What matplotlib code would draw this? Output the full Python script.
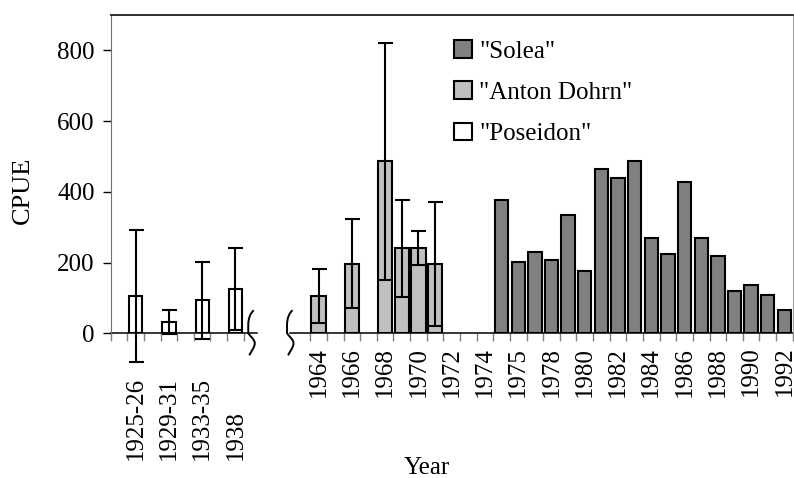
import numpy as np
import matplotlib
matplotlib.use('Agg')
import matplotlib.pyplot as plt
import matplotlib.transforms as mtransforms
from matplotlib.patches import Patch, PathPatch
from matplotlib.path import Path

matplotlib.rc('font', family='Liberation Serif', size=18)

_ = np.nan

# one slot per category on the x axis, '' = category without a printed label
cat_labels = ['', '1925-26', '', '1929-31', '', '1933-35', '', '1938', '', '', '', '',
              '1964', '', '1966', '', '1968', '', '1970', '', '1972', '', '1974',
              '', '1975', '', '1978', '', '1980', '', '1982', '', '1984', '', '1986',
              '', '1988', '', '1990', '', '1992']

poseidon_cpue = [_, 105, _, 32, _, 93, _, 125, _, _, _, _,
                 _, _, _, _, _, _, _, _, _, _, _,
                 _, _, _, _, _, _, _, _, _, _, _, _, _, _, _, _, _, _]
poseidon_err = [_, 187, _, 33, _, 108, _, 115, _, _, _, _,
                _, _, _, _, _, _, _, _, _, _, _,
                _, _, _, _, _, _, _, _, _, _, _, _, _, _, _, _, _, _]
anton_cpue = [_, _, _, _, _, _, _, _, _, _, _, _,
              105, _, 197, _, 487, 241, 241, 197, _, _, _,
              _, _, _, _, _, _, _, _, _, _, _, _, _, _, _, _, _, _]
anton_err = [_, _, _, _, _, _, _, _, _, _, _, _,
             76, _, 125, _, 335, 137, 48, 175, _, _, _,
             _, _, _, _, _, _, _, _, _, _, _, _, _, _, _, _, _, _]
solea_cpue = [_, _, _, _, _, _, _, _, _, _, _, _,
              _, _, _, _, _, _, _, _, _, _, _,
              378, 202, 229, 208, 335, 176, 465, 438, 487, 269, 225, 427,
              269, 219, 120, 137, 109, 66]

# empty slots where the time axis is broken
break_first, break_last = 8, 11

fig = plt.figure(figsize=(7.94, 4.78), dpi=100)
ax = fig.add_axes([0.1394, 0.3027, 0.859, 0.6659])

x = np.arange(len(cat_labels))
lw = 1.5
ax.bar(x, solea_cpue, 0.8, color='#808080', edgecolor='black', linewidth=lw)
ax.bar(x, anton_cpue, 0.86, color='#c0c0c0', edgecolor='black', linewidth=lw)
ax.bar(x, poseidon_cpue, 0.8, color='white', edgecolor='black', linewidth=lw)
for vals, errs in [(anton_cpue, anton_err), (poseidon_cpue, poseidon_err)]:
    eb = ax.errorbar(x, vals, yerr=errs, fmt='none', ecolor='black',
                     elinewidth=lw, capsize=5.4, capthick=lw)
    for art in list(eb.lines[1]) + list(eb.lines[2]):
        art.set_clip_on(False)

ax.set_xlim(-0.5, len(cat_labels) - 0.5)
ax.set_ylim(0, 900)
ax.set_yticks(range(0, 801, 200))
ax.tick_params(axis='y', direction='out', length=5.5, width=1, color='black', pad=6)

# tick marks between categories, none inside the break
bounds = np.arange(len(cat_labels) + 1) - 0.5
ticks = [b for b in bounds if not (break_first - 0.5 < b < break_last + 0.5)]
ax.set_xticks(ticks)
ax.set_xticklabels([])
ax.tick_params(axis='x', direction='out', length=5.5, width=1, color='#808080')

ax.spines['bottom'].set_visible(False)
ax.spines['left'].set_color('#707070')
ax.spines['top'].set_color('#202020')
ax.spines['top'].set_linewidth(1.3)
ax.spines['right'].set_color('#a0a0a0')

# x axis line, interrupted at the break
ax.plot([-0.5, break_first + 0.3], [0, 0], color='black', lw=1.1, clip_on=False)
ax.plot([break_last - 0.7, len(cat_labels) - 0.5], [0, 0], color='black', lw=1.1, clip_on=False)

# break marks
verts = [(5.5, 23), (2, 20), (0, 15), (0, 8), (0, 0),
         (2, -3), (6.5, -6), (6.5, -10), (6.5, -14), (3, -18), (1, -22)]
codes = [Path.MOVETO, Path.CURVE4, Path.CURVE4, Path.CURVE4, Path.LINETO,
         Path.CURVE4, Path.CURVE4, Path.CURVE4, Path.CURVE4, Path.CURVE4, Path.CURVE4]
brk = Path(verts, codes)
for xb in [break_first - 0.23, break_last - 0.9]:
    tr = (mtransforms.Affine2D().scale(fig.dpi / 100.0)
          + mtransforms.ScaledTranslation(xb, 0, ax.transData))
    ax.add_patch(PathPatch(brk, transform=tr, facecolor='none', edgecolor='black',
                           lw=1.4, clip_on=False))

# category labels
xtr = ax.get_xaxis_transform()
for i, lab in enumerate(cat_labels):
    if not lab:
        continue
    if i < break_first:
        ax.text(i, -0.398, lab, rotation=90, ha='center', va='bottom', transform=xtr)
    else:
        ax.text(i, -0.042, lab, rotation=90, ha='center', va='top', transform=xtr)

fig.text(23 / 794, 1 - 190 / 478, 'CPUE', rotation=90, ha='center', va='center', size=19)
fig.text(427 / 794, 1 - 468 / 478, 'Year', ha='center', va='center', size=18)

handles = [Patch(facecolor='#808080', edgecolor='black', lw=lw),
           Patch(facecolor='#c0c0c0', edgecolor='black', lw=lw),
           Patch(facecolor='white', edgecolor='black', lw=lw)]
ax.legend(handles, ['"Solea"', '"Anton Dohrn"', '"Poseidon"'], loc='upper left',
          bbox_to_anchor=(454 / 794, 1 - 40 / 478), bbox_transform=fig.transFigure,
          frameon=False, borderpad=0, borderaxespad=0, handlelength=0.7,
          handleheight=0.7, handletextpad=0.3, labelspacing=0.75)

plt.savefig('out.png', dpi=100)
